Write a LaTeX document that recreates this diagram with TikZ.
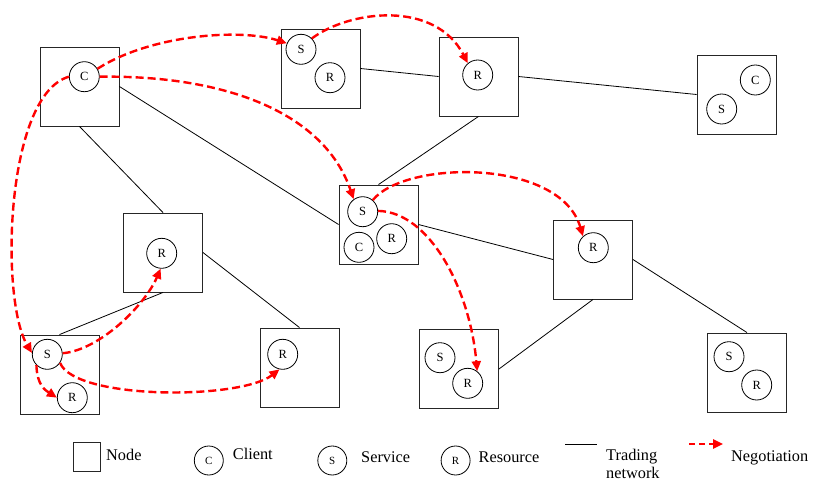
\documentclass[tikz,border=0pt]{standalone}
\usepackage{fontspec}
\setmainfont{Liberation Serif}
\usetikzlibrary{arrows.meta}
\begin{document}
\begin{tikzpicture}[x=1pt,y=1pt,
  box/.style={draw=black!85, line width=0.9pt, minimum width=79pt, minimum height=79pt, inner sep=0pt},
  ent/.style={circle, draw, line width=0.8pt, fill=white, minimum size=30pt, inner sep=0pt, font=\fontsize{12.5}{14}\selectfont},
  lent/.style={ent, minimum size=29pt, font=\fontsize{11}{13}\selectfont},
  net/.style={line width=0.8pt},
  neg/.style={red, line width=2.4pt, dash pattern=on 8pt off 4pt, -{Triangle[length=10pt,width=9pt]}},
  negleg/.style={red, line width=2.4pt, dash pattern=on 6pt off 4pt, -{Triangle[length=10pt,width=9pt]}},
  legtext/.style={anchor=base west, inner sep=0pt, font=\fontsize{16.3}{18}\selectfont}
]
\useasboundingbox (0,0) rectangle (814,-482);
% boxes
\node[box] (A) at (79.5,-86.5) {};
\node[box] (B) at (320.5,-68.5) {};
\node[box] (D) at (478.5,-76.5) {};
\node[box] (E) at (736.5,-94.5) {};
\node[box] (F) at (378.5,-224.5) {};
\node[box] (G) at (163,-252.5) {};
\node[box] (H) at (593,-259.5) {};
\node[box] (I) at (59.5,-374.5) {};
\node[box] (J) at (299.5,-367.5) {};
\node[box] (K) at (459,-369) {};
\node[box] (L) at (747,-372.5) {};
% trading network
\draw[net] (A.east) -- (F.west);
\draw[net] (A.south) -- (G.north);
\draw[net] (B.east) -- (D.west);
\draw[net] (D.east) -- (E.west);
\draw[net] (D.south) -- (F.north);
\draw[net] (F.east) -- (H.west);
\draw[net] (G.east) -- (J.north);
\draw[net] (G.south) -- (I.north);
\draw[net] (H.south) -- (K.east);
\draw[net] (H.east) -- (L.north);
% entities
\node[ent] (AC) at (84.3,-76.7) {C};
\node[ent] (BS) at (301,-49.3) {S};
\node[ent] (BR) at (330,-77.7) {R};
\node[ent] (DR) at (477.7,-75) {R};
\node[ent] (EC) at (755.3,-80) {C};
\node[ent] (ES) at (721.7,-109) {S};
\node[ent] (FS) at (362.7,-211.7) {S};
\node[ent] (FC) at (359,-247.3) {C};
\node[ent] (FR) at (391.7,-238.7) {R};
\node[ent] (GR) at (161.7,-253.3) {R};
\node[ent] (HR) at (593.3,-247.7) {R};
\node[ent] (IS) at (47.3,-354.3) {S};
\node[ent] (IR) at (72.3,-397.7) {R};
\node[ent] (JR) at (282.7,-354.3) {R};
\node[ent] (KS) at (440,-357.7) {S};
\node[ent] (KR) at (467.7,-383.3) {R};
\node[ent] (LS) at (729,-356.7) {S};
\node[ent] (LR) at (756.7,-385) {R};
% negotiation
\draw[neg] (AC.31) .. controls (150,-35) and (240,-28) .. (BS.157);
\draw[neg] (AC.0) .. controls (230,-75) and (325,-115) .. (FS.126);
\draw[neg] (AC.180) .. controls (5,-95) and (0,-300) .. (IS.175);
\draw[neg] (BS.45) .. controls (350,-10) and (435,0) .. (DR.130);
\draw[neg] (FS.49) .. controls (405,-160) and (560,-158) .. (HR.132);
\draw[neg] (FS.3) .. controls (430,-212) and (470,-290) .. (KR.52);
\draw[neg] (IS.4) .. controls (100,-350) and (145,-305) .. (GR.266);
\draw[neg] (IS.225) .. controls (37,-385) and (45,-390) .. (IR.180);
\draw[neg] (IS.-34) .. controls (75,-400) and (240,-400) .. (JR.258);
% legend
\node[box, minimum width=27pt, minimum height=29pt] (lnode) at (86.5,-456.5) {};
\node[legtext] (tnode) at (106,-460) {Node};
\node[lent] (lc) at (208.8,-460.5) {C};
\node[legtext] (tclient) at (232.7,-459) {Client};
\node[lent] (ls) at (332.3,-460.5) {S};
\node[legtext] (tservice) at (361,-462) {Service};
\node[lent] (lr) at (455.6,-460.5) {R};
\node[legtext] (tres) at (478.5,-462) {Resource};
\coordinate (lt1) at (565,-444);
\coordinate (lt2) at (597,-444);
\draw[net] (lt1) -- (lt2);
\node[legtext] (ttrad) at (606,-460) {Trading};
\node[legtext] (tnet) at (606,-478) {network};
\coordinate (ln1) at (689,-444);
\coordinate (ln2) at (723,-444);
\draw[negleg] (ln1) -- (ln2);
\node[legtext] (tneg) at (731,-461.7) {Negotiation};
\end{tikzpicture}
\end{document}
